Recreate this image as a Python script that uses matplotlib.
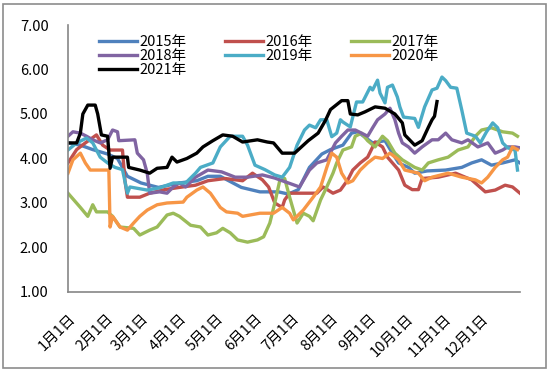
import matplotlib
matplotlib.use("Agg")
import matplotlib.pyplot as plt
from matplotlib.patches import Rectangle

plt.rcParams['font.family'] = ['Noto Sans CJK SC', 'DejaVu Sans']

# tick labels
month_days = [0, 31, 59, 90, 120, 151, 181, 212, 243, 273, 304, 334]
month_labels = ['1月1日', '2月1日', '3月1日', '4月1日', '5月1日', '6月1日',
                '7月1日', '8月1日', '9月1日', '10月1日', '11月1日', '12月1日']
y_ticks = [1, 2, 3, 4, 5, 6, 7]

# series (day of year, value)
d2015 = [0, 10, 20, 32, 40, 48, 59, 73, 90, 104, 113, 123, 140, 155, 170, 178, 186,
         195, 205, 212, 222, 229, 234, 246, 256, 262, 267, 275, 280, 290, 305, 318,
         326, 334, 342, 351, 361, 365]
v2015 = [4.35, 4.3, 4.2, 4.1, 4.0, 3.6, 3.45, 3.35, 3.45, 3.5, 3.6, 3.6, 3.35, 3.25,
         3.25, 3.2, 3.3, 3.8, 4.1, 4.2, 4.3, 4.57, 4.6, 4.35, 4.4, 4.12, 3.9, 3.8,
         3.67, 3.72, 3.74, 3.8, 3.9, 3.97, 3.85, 3.9, 3.97, 3.9]

d2016 = [0, 7, 14, 23, 28, 34, 44, 46, 48, 58, 66, 78, 90, 103, 113, 127, 141, 149,
         157, 162, 167, 173, 175, 179, 201, 206, 214, 220, 226, 230, 236, 242, 248,
         254, 258, 267, 272, 278, 283, 286, 299, 313, 326, 337, 345, 353, 359, 365]
v2016 = [3.9, 4.2, 4.35, 4.53, 4.3, 4.19, 4.19, 3.5, 3.13, 3.13, 3.22, 3.3, 3.35, 3.4,
         3.5, 3.55, 3.5, 3.67, 3.52, 3.36, 3.0, 2.9, 3.07, 3.22, 3.22, 3.36, 3.22,
         3.29, 3.52, 3.74, 3.9, 4.03, 4.37, 4.26, 4.03, 3.74, 3.4, 3.3, 3.3, 3.55,
         3.58, 3.67, 3.52, 3.25, 3.29, 3.4, 3.36, 3.22]

d2017 = [0, 10, 16, 20, 23, 32, 36, 42, 53, 58, 66, 72, 80, 85, 90, 99, 107, 113, 120,
         125, 131, 137, 145, 153, 158, 163, 167, 171, 175, 179, 185, 190, 195, 198,
         204, 209, 214, 217, 222, 229, 232, 237, 242, 248, 254, 258, 264, 270, 280,
         286, 291, 299, 307, 315, 323, 329, 334, 342, 351, 359, 363]
v2017 = [3.22, 2.9, 2.7, 2.96, 2.8, 2.8, 2.7, 2.46, 2.43, 2.28, 2.39, 2.46, 2.73, 2.77,
         2.7, 2.5, 2.46, 2.28, 2.33, 2.43, 2.33, 2.17, 2.12, 2.17, 2.24, 2.55, 3.0,
         3.5, 3.55, 3.13, 2.55, 2.77, 2.7, 2.6, 3.07, 3.36, 3.67, 3.9, 4.19, 4.26,
         4.5, 4.57, 4.4, 4.26, 4.5, 4.4, 4.12, 3.97, 3.8, 3.74, 3.9, 3.97, 4.03, 4.19,
         4.26, 4.5, 4.64, 4.69, 4.6, 4.57, 4.5]

d2018 = [0, 4, 10, 15, 20, 26, 32, 36, 40, 41, 54, 56, 61, 64, 66, 74, 80, 85, 90, 95,
         103, 113, 124, 135, 145, 157, 167, 178, 187, 195, 201, 209, 216, 221, 226,
         232, 237, 242, 246, 250, 256, 260, 264, 267, 270, 275, 280, 286, 294, 299,
         305, 310, 318, 323, 331, 339, 345, 351, 355, 361, 365]
v2018 = [4.5, 4.6, 4.57, 4.5, 4.42, 4.35, 4.42, 4.64, 4.6, 4.4, 4.42, 4.12, 3.97, 3.67,
         3.22, 3.25, 3.22, 3.36, 3.45, 3.36, 3.58, 3.74, 3.7, 3.58, 3.58, 3.63, 3.56,
         3.45, 3.36, 3.74, 3.9, 3.97, 4.35, 4.5, 4.64, 4.64, 4.57, 4.5, 4.69, 4.87,
         5.0, 5.13, 4.87, 4.57, 4.35, 4.26, 4.12, 4.26, 4.42, 4.42, 4.57, 4.42, 4.35,
         4.42, 4.26, 4.35, 4.12, 4.19, 4.26, 4.26, 4.24]

d2019 = [0, 7, 15, 20, 26, 32, 38, 44, 48, 50, 64, 74, 85, 95, 103, 107, 117, 123,
         131, 141, 145, 151, 159, 167, 173, 179, 185, 191, 195, 200, 204, 209, 213,
         217, 220, 222, 228, 233, 238, 244, 246, 250, 252, 256, 258, 262, 266, 268,
         271, 280, 283, 288, 294, 298, 302, 305, 309, 314, 318, 322, 329, 333, 338,
         343, 347, 351, 355, 361, 363]
v2019 = [4.19, 4.35, 4.46, 4.35, 4.03, 3.9, 3.8, 3.75, 3.22, 3.36, 3.29, 3.34, 3.45,
         3.45, 3.67, 3.8, 3.9, 4.26, 4.5, 4.5, 4.3, 3.85, 3.75, 3.63, 3.58, 3.8, 4.3,
         4.64, 4.75, 4.69, 4.87, 4.87, 4.49, 4.57, 4.87, 4.82, 4.71, 5.27, 5.27, 5.6,
         5.54, 5.76, 5.47, 5.25, 5.6, 5.65, 5.38, 5.16, 4.93, 4.9, 4.7, 5.16, 5.54,
         5.58, 5.83, 5.75, 5.6, 5.58, 5.09, 4.57, 4.5, 4.35, 4.6, 4.8, 4.69, 4.35,
         4.24, 4.19, 3.74]

d2020 = [0, 4, 10, 14, 18, 33, 34, 36, 42, 48, 53, 58, 64, 72, 80, 93, 96, 104, 109,
         115, 123, 128, 137, 141, 155, 166, 173, 179, 182, 190, 198, 204, 209, 213,
         217, 221, 226, 230, 236, 242, 248, 254, 260, 267, 272, 283, 288, 294, 307,
         318, 329, 334, 339, 345, 351, 355, 359, 363]
v2020 = [3.67, 3.97, 4.12, 3.9, 3.74, 3.74, 2.46, 2.7, 2.46, 2.39, 2.55, 2.7, 2.84,
         2.96, 3.0, 3.02, 3.13, 3.29, 3.36, 3.22, 2.9, 2.8, 2.77, 2.7, 2.77, 2.77,
         2.9, 2.77, 2.62, 2.84, 3.13, 3.36, 3.8, 4.12, 4.03, 3.67, 3.45, 3.5, 3.74,
         3.9, 4.03, 4.0, 4.12, 3.97, 3.74, 3.67, 3.5, 3.58, 3.67, 3.58, 3.52, 3.45,
         3.58, 3.8, 3.97, 4.03, 4.26, 4.2]

d2021 = [0, 7, 10, 12, 16, 22, 24, 27, 32, 34, 36, 48, 49, 58, 66, 72, 80, 84, 88, 96,
         104, 109, 117, 125, 133, 141, 153, 161, 166, 173, 183, 194, 202, 208, 212,
         221, 226, 228, 234, 240, 248, 256, 264, 270, 272, 280, 286, 291, 294, 296, 298]
v2021 = [4.35, 4.35, 4.57, 5.0, 5.2, 5.2, 5.0, 4.53, 4.5, 3.78, 4.03, 4.03, 3.8, 3.74,
         3.67, 3.78, 3.8, 4.03, 3.92, 4.0, 4.12, 4.26, 4.4, 4.53, 4.5, 4.37, 4.42,
         4.37, 4.35, 4.12, 4.12, 4.4, 4.57, 4.86, 5.1, 5.3, 5.3, 5.0, 4.98, 5.05,
         5.16, 5.13, 5.0, 4.8, 4.53, 4.3, 4.4, 4.7, 4.87, 4.95, 5.28]

series = [
    ('2015年', d2015, v2015, '#4F81BD'),
    ('2016年', d2016, v2016, '#C0504D'),
    ('2017年', d2017, v2017, '#9BBB59'),
    ('2018年', d2018, v2018, '#8064A2'),
    ('2019年', d2019, v2019, '#4BACC6'),
    ('2020年', d2020, v2020, '#F79646'),
    ('2021年', d2021, v2021, '#000000'),
]

fig = plt.figure(figsize=(5.5, 3.71), dpi=100)
ax = fig.add_axes([0.1236, 0.213, 0.8218, 0.7196])

lines = {}
for name, d, v, c in series:
    ln, = ax.plot(d, v, color=c, lw=2.4, label=name, solid_joinstyle='round')
    lines[name] = ln

ax.set_xlim(0, 365)
ax.set_ylim(1, 7)
ax.set_yticks(y_ticks)
ax.set_yticklabels([f'{t:.2f}' for t in y_ticks], fontsize=10.5)
ax.set_xticks(month_days)
ax.set_xticklabels(month_labels, fontsize=10.5, rotation=45, ha='right',
                   va='top', rotation_mode='anchor')
ax.tick_params(axis='both', length=0)
ax.tick_params(axis='y', pad=14)
ax.tick_params(axis='x', pad=14)
for s in ['top', 'right']:
    ax.spines[s].set_visible(False)
for s in ['left', 'bottom']:
    ax.spines[s].set_color('#868686')
    ax.spines[s].set_linewidth(1.2)

order = ['2015年', '2018年', '2021年', '2016年', '2019年', '2017年', '2020年']
leg = ax.legend([lines[n] for n in order], order, ncol=3, frameon=False,
                loc='upper left', bbox_to_anchor=(0.055, 0.985), fontsize=10.5,
                handlelength=2.6, handletextpad=0.2, columnspacing=2.6,
                labelspacing=0.0, borderaxespad=0)

fig.patches.append(Rectangle((0.006, 0.008), 0.986, 0.98, transform=fig.transFigure,
                             fill=False, edgecolor='#8c8c8c', lw=1.2))

fig.savefig('out.png', dpi=100)
